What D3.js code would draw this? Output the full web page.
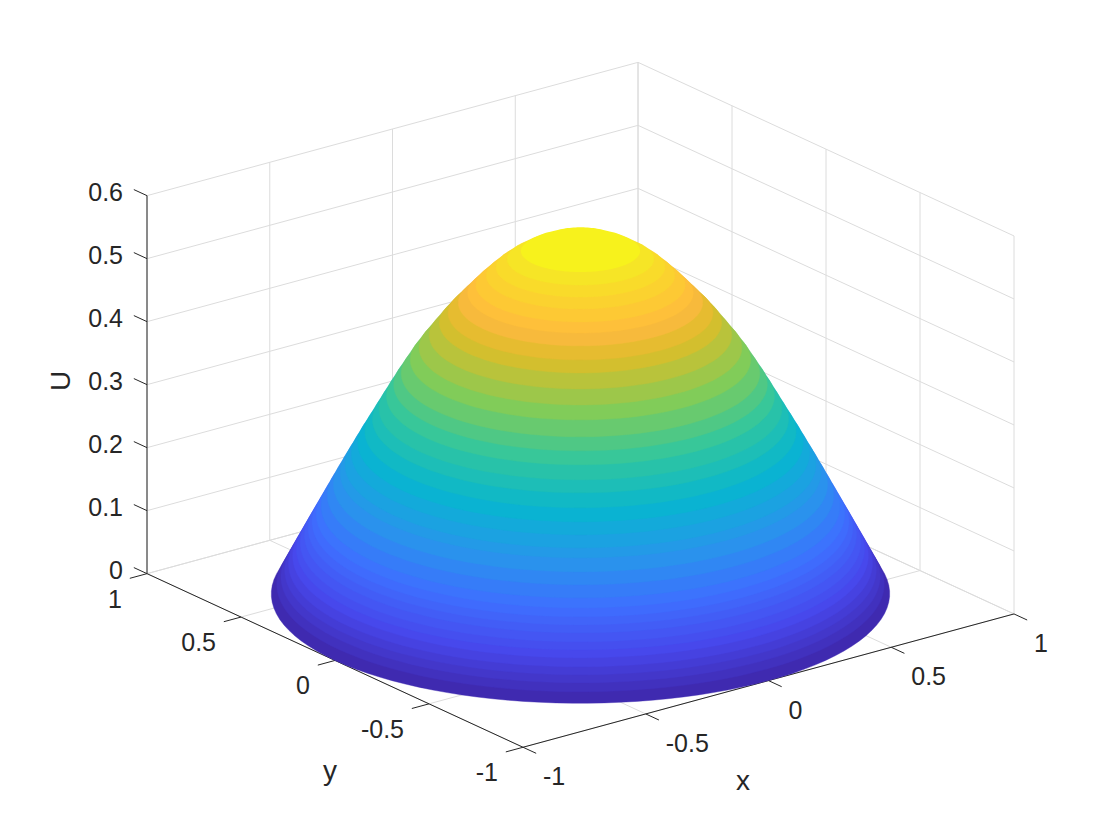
<!DOCTYPE html>
<html>
<head>
<meta charset="utf-8">
<script src="https://cdn.jsdelivr.net/npm/d3@7"></script>
<style>
  body { margin: 0; background: #fff; }
  text { font-family: "Liberation Sans", Arial, sans-serif; fill: #262626; }
</style>
</head>
<body>
<div id="viz"></div>
<script>
const width = 1120;
const height = 840;

// ticks
const xTicks = [-1, -0.5, 0, 0.5, 1];
const yTicks = [-1, -0.5, 0, 0.5, 1];
const zTicks = [0, 0.1, 0.2, 0.3, 0.4, 0.5, 0.6];
const xTickLabels = ["-1", "-0.5", "0", "0.5", "1"];
const yTickLabels = ["-1", "-0.5", "0", "0.5", "1"];
const zTickLabels = ["0", "0.1", "0.2", "0.3", "0.4", "0.5", "0.6"];

// surface bands, outer rim to top
const ringR = [1, 0.9825, 0.9689, 0.9567, 0.9445, 0.9309, 0.9187, 0.9065, 0.8928, 0.8805, 0.8682, 0.8544, 0.8391,
  0.8191, 0.7991, 0.7773, 0.7615, 0.7409, 0.7203, 0.6974, 0.673, 0.6518, 0.6274, 0.6042, 0.5799, 0.5505, 0.522,
  0.4892, 0.4563, 0.4282, 0.3952, 0.3647, 0.3381, 0.305, 0.273, 0.2372, 0.1928];
const ringU = [0, 0.0152, 0.0271, 0.0377, 0.0483, 0.0602, 0.0707, 0.0813, 0.0932, 0.1038, 0.1143, 0.1262, 0.1394,
  0.1566, 0.1738, 0.1922, 0.2053, 0.2224, 0.2395, 0.2577, 0.2772, 0.2942, 0.3137, 0.3319, 0.3499, 0.3717, 0.3905,
  0.4102, 0.4299, 0.4457, 0.4622, 0.4774, 0.4903, 0.5051, 0.5185, 0.5313, 0.5442];

// cap above the last band, all one colour
const capR = [0.1928, 0.172, 0.125, 0.07, 0];
const capU = [0.5442, 0.5502, 0.56, 0.567, 0.571];
const peakU = 0.571;

// parula
const colorPos = [0, 0.111, 0.222, 0.333, 0.444, 0.556, 0.667, 0.778, 0.825, 0.841, 0.889, 0.952, 1];
const colorHex = ["#3e26a8", "#4747eb", "#3e6fff", "#2796eb", "#08b5d0", "#31c69f", "#81cc59", "#dcbd29",
  "#f8ba3d", "#febe3c", "#fccf30", "#f5e924", "#f9fb15"];

const color = d3.scaleLinear().domain(colorPos).range(colorHex).clamp(true);

// oblique projection, one scale per data axis
const xToH = d3.scaleLinear().domain([-1, 1]).range([-245.5, 245.5]);
const xToV = d3.scaleLinear().domain([-1, 1]).range([66.65, -66.65]);
const yToH = d3.scaleLinear().domain([-1, 1]).range([188, -188]);
const yToV = d3.scaleLinear().domain([-1, 1]).range([86.8, -86.8]);
const zToV = d3.scaleLinear().domain([0, 0.6]).range([0, -378]);
const cx = 580.5;
const cy = 593.8;

function project(x, y, z) {
  return [cx + xToH(x) + yToH(y), cy + xToV(x) + yToV(y) + zToV(z)];
}

const svg = d3.select("#viz").append("svg")
  .attr("width", width)
  .attr("height", height)
  .style("display", "block");

function seg(g, a, b, col) {
  const p = project(a[0], a[1], a[2]);
  const q = project(b[0], b[1], b[2]);
  g.append("line")
    .attr("x1", p[0]).attr("y1", p[1])
    .attr("x2", q[0]).attr("y2", q[1])
    .attr("stroke", col)
    .attr("stroke-width", 1);
}

// grid on the two back walls and the floor
const gridColor = "#dcdcdc";
const grid = svg.append("g");
xTicks.forEach(x => {
  seg(grid, [x, 1, 0], [x, 1, 0.6], gridColor);
  seg(grid, [x, -1, 0], [x, 1, 0], gridColor);
});
yTicks.forEach(y => {
  seg(grid, [1, y, 0], [1, y, 0.6], gridColor);
  seg(grid, [-1, y, 0], [1, y, 0], gridColor);
});
zTicks.forEach(z => {
  seg(grid, [-1, 1, z], [1, 1, z], gridColor);
  seg(grid, [1, -1, z], [1, 1, z], gridColor);
});

// axis lines and ticks
const axisColor = "#262626";
const axes = svg.append("g");
seg(axes, [-1, -1, 0], [1, -1, 0], axisColor);
seg(axes, [-1, -1, 0], [-1, 1, 0], axisColor);
seg(axes, [-1, 1, 0], [-1, 1, 0.6], axisColor);

const tickLen = 0.07;
xTicks.forEach(x => seg(axes, [x, -1, 0], [x, -1 - tickLen, 0], axisColor));
yTicks.forEach(y => seg(axes, [-1, y, 0], [-1 - tickLen, y, 0], axisColor));
zTicks.forEach(z => seg(axes, [-1, 1, z], [-1, 1 + tickLen, z], axisColor));

// surface: each band is the hull of two neighbouring rings, painted from the rim up
const angles = d3.range(0, 2 * Math.PI, Math.PI / 60);
function ring(r, u) {
  return angles.map(a => project(r * Math.cos(a), r * Math.sin(a), u));
}
const surface = svg.append("g");
const bandLine = d3.line().curve(d3.curveLinearClosed);
ringR.slice(0, -1).forEach((r, i) => {
  const hull = d3.polygonHull(ring(r, ringU[i]).concat(ring(ringR[i + 1], ringU[i + 1])));
  const col = color((ringU[i] + ringU[i + 1]) / 2 / peakU);
  surface.append("path")
    .attr("d", bandLine(hull))
    .attr("fill", col)
    .attr("stroke", col)
    .attr("stroke-width", 0.4);
});
const capHull = d3.polygonHull(capR.flatMap((r, i) => ring(r, capU[i])));
surface.append("path")
  .attr("d", bandLine(capHull))
  .attr("fill", color((capU[0] + peakU) / 2 / peakU));

// tick labels
const fontSize = 25;
const labels = svg.append("g").style("font-size", fontSize + "px");
xTicks.forEach((x, i) => {
  const p = project(x, -1, 0);
  labels.append("text")
    .attr("x", p[0] + 20)
    .attr("y", p[1] + 38)
    .text(xTickLabels[i]);
});
yTicks.forEach((y, i) => {
  const p = project(-1, y, 0);
  labels.append("text")
    .attr("x", p[0] - 25)
    .attr("y", p[1] + 34)
    .attr("text-anchor", "end")
    .text(yTickLabels[i]);
});
zTicks.forEach((z, i) => {
  const p = project(-1, 1, z);
  labels.append("text")
    .attr("x", p[0] - 24)
    .attr("y", p[1] + 5)
    .attr("text-anchor", "end")
    .text(zTickLabels[i]);
});

// axis titles
const titles = svg.append("g").style("font-size", "28px");
titles.append("text").attr("x", 743).attr("y", 790).attr("text-anchor", "middle").text("x");
titles.append("text").attr("x", 330).attr("y", 780).attr("text-anchor", "middle").text("y");
titles.append("text")
  .attr("transform", "translate(70,381) rotate(-90)")
  .attr("text-anchor", "middle")
  .text("U");
</script>
</body>
</html>
